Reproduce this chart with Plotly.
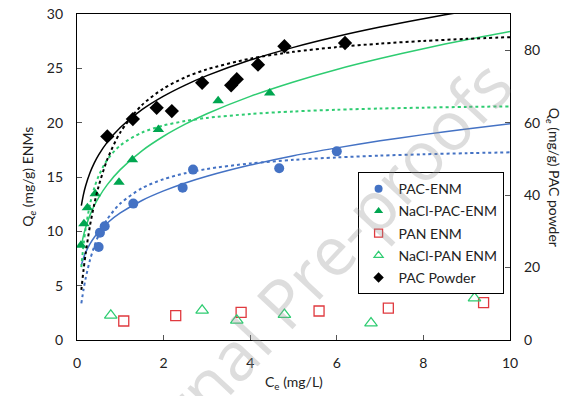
import plotly.graph_objects as go

# ---------------- data ----------------
pac_enm_x = [0.50, 0.53, 0.64, 1.30, 2.44, 2.68, 4.67, 6.00]
pac_enm_y = [8.56, 9.88, 10.46, 12.55, 14.02, 15.68, 15.80, 17.36]

nacl_pac_enm_x = [0.09, 0.16, 0.24, 0.42, 0.97, 1.28, 1.88, 3.26, 4.45]
nacl_pac_enm_y = [8.71, 10.69, 12.16, 13.47, 14.51, 16.58, 19.36, 22.01, 22.72]

pan_enm_x = [1.08, 2.28, 3.79, 5.59, 7.19, 9.39]
pan_enm_y = [1.75, 2.24, 2.54, 2.67, 2.94, 3.44]

nacl_pan_enm_x = [0.78, 2.89, 3.69, 4.79, 6.79, 9.18]
nacl_pan_enm_y = [2.27, 2.73, 1.81, 2.34, 1.56, 3.86]

pac_powder_x = [0.70, 1.29, 1.84, 2.19, 2.89, 3.56, 3.69, 4.18, 4.79, 6.19]
pac_powder_y = [56.2, 61.0, 64.1, 63.2, 71.0, 70.3, 72.0, 76.0, 81.1, 82.0]

# fitted curves, values
curve_x = [0.1, 0.15, 0.2, 0.3, 0.4, 0.5, 0.7, 1, 1.5, 2, 2.5, 3, 4, 5, 6, 7, 8, 9, 10]
pac_enm_solid = [6.87, 7.54, 8.06, 8.85, 9.46, 9.96, 10.77, 11.69, 12.84, 13.72, 14.45,
                 15.07, 16.10, 16.96, 17.68, 18.33, 18.90, 19.42, 19.90]
pac_enm_dotted = [3.37, 4.62, 5.68, 7.36, 8.63, 9.64, 11.12, 12.56, 13.97, 14.80, 15.35,
                  15.74, 16.25, 16.58, 16.80, 16.97, 17.09, 17.19, 17.27]
nacl_solid = [8.66, 9.61, 10.35, 11.49, 12.38, 13.11, 14.30, 15.68, 17.41, 18.75, 19.86,
              20.82, 22.42, 23.75, 24.90, 25.90, 26.81, 27.64, 28.40]
nacl_dotted = [6.70, 8.73, 10.27, 12.49, 14.01, 15.10, 16.59, 17.91, 19.09, 19.74, 20.15,
               20.44, 20.80, 21.03, 21.19, 21.30, 21.38, 21.45, 21.50]
powder_solid = [37.09, 40.21, 42.57, 46.16, 48.88, 51.10, 54.63, 58.65, 63.58, 67.32, 70.38,
                72.98, 77.28, 80.79, 83.78, 86.39, 88.71, 90.81, 92.74]
powder_dotted = [13.82, 19.23, 23.90, 31.57, 37.60, 42.46, 49.84, 57.31, 64.86, 69.44, 72.51,
                 74.72, 77.67, 79.55, 80.86, 81.82, 82.56, 83.14, 83.61]

x_ticks = [0, 2, 4, 6, 8, 10]
y_ticks = [0, 5, 10, 15, 20, 25, 30]
y2_ticks = [0, 20, 40, 60, 80]

BLUE = "#4472C4"
GREEN = "#00A650"
GREEN_LIGHT = "#2ECC71"
RED = "#E0393E"
FONT = "Lato"

fig = go.Figure()

def add_curve(y, color, dash, axis):
    fig.add_trace(go.Scatter(x=curve_x, y=y, mode="lines", yaxis=axis, showlegend=False,
                             hoverinfo="skip",
                             line=dict(color=color, width=1.5 if dash == "solid" else 2,
                                       dash=dash, shape="spline", smoothing=0.8)))

add_curve(pac_enm_dotted, BLUE, "dot", "y")
add_curve(pac_enm_solid, BLUE, "solid", "y")
add_curve(nacl_dotted, GREEN_LIGHT, "dot", "y")
add_curve(nacl_solid, GREEN_LIGHT, "solid", "y")
add_curve(powder_dotted, "black", "dot", "y2")
add_curve(powder_solid, "black", "solid", "y2")

series = [
    ("PAC-ENM", pac_enm_x, pac_enm_y, "y", "circle", 10, 8, BLUE, 0),
    ("NaCl-PAC-ENM", nacl_pac_enm_x, nacl_pac_enm_y, "y", "triangle-up", 10, 8, GREEN, 0),
    ("PAN ENM", pan_enm_x, pan_enm_y, "y", "square-open", 10, 8, RED, 1.3),
    ("NaCl-PAN ENM", nacl_pan_enm_x, nacl_pan_enm_y, "y", "triangle-up-open", 11, 8,
     GREEN_LIGHT, 1.2),
    ("PAC Powder", pac_powder_x, pac_powder_y, "y2", "diamond", 11, 8, "black", 0),
]

for i, (name, xs, ys, ax, sym, size, lsize, color, lw) in enumerate(series):
    fig.add_trace(go.Scatter(x=xs, y=ys, mode="markers", name=name, yaxis=ax,
                             showlegend=False, legendgroup=f"g{i}",
                             marker=dict(symbol=sym, size=size, color=color,
                                         line=dict(width=lw, color=color))))
    # legend entry with the smaller symbol used in the original legend
    fig.add_trace(go.Scatter(x=[None], y=[None], mode="markers", name=name, yaxis=ax,
                             showlegend=True, legendgroup=f"g{i}",
                             marker=dict(symbol=sym, size=lsize, color=color,
                                         line=dict(width=lw, color=color))))

axis_common = dict(showline=True, linecolor="black", linewidth=1.2, ticks="inside",
                   ticklen=5, tickcolor="#555", showgrid=False, zeroline=False,
                   automargin=False,
                   tickfont=dict(family=FONT, size=14, color="#222"))

fig.update_layout(
    width=576, height=396,
    margin=dict(l=77, r=66, t=14, b=56, autoexpand=False),
    paper_bgcolor="white", plot_bgcolor="white",
    font=dict(family=FONT, size=14, color="#222"),
    xaxis=dict(range=[0, 10], tickvals=x_ticks, mirror=True, ticklabelstandoff=10,
               **axis_common),
    yaxis=dict(range=[0, 30], tickvals=y_ticks, mirror=True, ticklabelstandoff=10,
               **axis_common),
    yaxis2=dict(range=[0, 90], tickvals=y2_ticks, overlaying="y", side="right",
                ticklabelstandoff=10, **axis_common),
    legend=dict(x=0.648, y=0.515, xanchor="left", yanchor="top",
                bordercolor="black", borderwidth=1, bgcolor="white",
                font=dict(family=FONT, size=14, color="#222"),
                tracegroupgap=1, itemsizing="trace"),
    showlegend=True,
    annotations=[
        dict(text="Journal Pre-proofs", x=0.51, y=0.17, xref="paper", yref="paper",
             xanchor="center", yanchor="middle", textangle=-47, showarrow=False,
             font=dict(family="Open Sans", size=68, color="rgba(150,150,150,0.32)")),
        dict(text="C<sub>e</sub> (mg/L)", x=0.5, y=-0.13, xref="paper", yref="paper",
             xanchor="center", yanchor="middle", showarrow=False,
             font=dict(family=FONT, size=14, color="#222")),
        dict(text="Q<sub><i>e</i></sub> (mg/g) ENMs", x=-0.114, y=0.5, xref="paper",
             yref="paper", xanchor="center", yanchor="middle", textangle=-90,
             showarrow=False, font=dict(family=FONT, size=14, color="#222")),
        dict(text="Q<sub><i>e</i></sub> (mg/g) PAC powder", x=1.102, y=0.5, xref="paper",
             yref="paper", xanchor="center", yanchor="middle", textangle=90,
             showarrow=False, font=dict(family=FONT, size=14, color="#222")),
    ],
)

fig.write_html("out.html", config={"displayModeBar": False},
               post_script="document.body.style.margin='0';document.body.style.padding='0';")
